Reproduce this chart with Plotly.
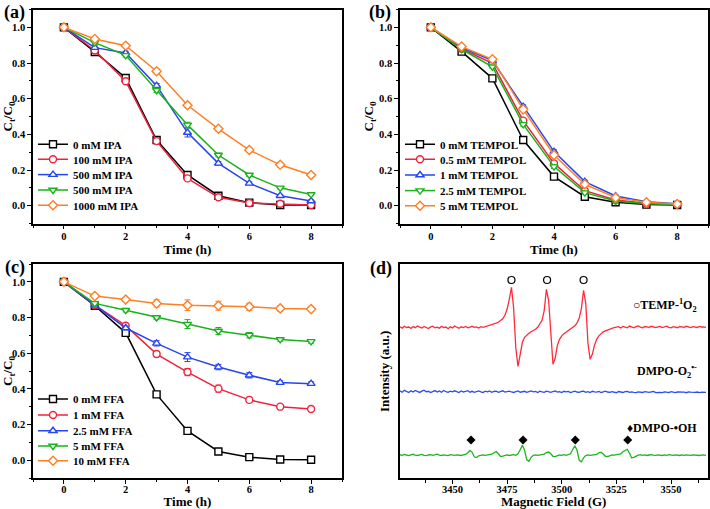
import plotly.graph_objects as go

SERIF = "Liberation Serif"

# ---------------- data ----------------
time_h = [0, 1, 2, 3, 4, 5, 6, 7, 8]

ipa_labels = ["0 mM IPA", "100 mM IPA", "500 mM IPA", "500 mM IPA", "1000 mM IPA"]
ipa_0 = [1.0, 0.862, 0.716, 0.368, 0.172, 0.056, 0.017, 0.004, 0.004]
ipa_100 = [1.0, 0.870, 0.698, 0.362, 0.153, 0.047, 0.015, 0.011, 0.004]
ipa_500a = [1.0, 0.886, 0.856, 0.673, 0.410, 0.237, 0.125, 0.056, 0.026]
ipa_500b = [1.0, 0.914, 0.843, 0.647, 0.453, 0.284, 0.172, 0.100, 0.063]
ipa_1000 = [1.0, 0.935, 0.897, 0.754, 0.563, 0.431, 0.312, 0.229, 0.172]
ipa_err = [
    [0, 0.008, 0.008, 0.008, 0.01, 0.006, 0.004, 0.004, 0.004],
    [0, 0.008, 0.008, 0.008, 0.01, 0.006, 0.004, 0.004, 0.004],
    [0, 0.01, 0.01, 0.012, 0.025, 0.01, 0.008, 0.006, 0.006],
    [0, 0.01, 0.01, 0.012, 0.015, 0.01, 0.008, 0.006, 0.006],
    [0, 0.01, 0.01, 0.012, 0.012, 0.012, 0.01, 0.012, 0.008],
]

tempol_labels = ["0 mM TEMPOL", "0.5 mM TEMPOL", "1 mM TEMPOL", "2.5 mM TEMPOL", "5 mM TEMPOL"]
tempol_0 = [1.0, 0.864, 0.714, 0.368, 0.163, 0.050, 0.019, 0.006, 0.004]
tempol_05 = [1.0, 0.880, 0.798, 0.477, 0.237, 0.084, 0.032, 0.013, 0.007]
tempol_1 = [1.0, 0.886, 0.813, 0.555, 0.303, 0.135, 0.054, 0.022, 0.011]
tempol_25 = [1.0, 0.877, 0.779, 0.456, 0.219, 0.073, 0.026, 0.011, 0.007]
tempol_5 = [1.0, 0.892, 0.821, 0.540, 0.284, 0.120, 0.045, 0.019, 0.009]
tempol_err = [0, 0.008, 0.008, 0.01, 0.01, 0.008, 0.006, 0.006, 0.006]

ffa_labels = ["0 mM FFA", "1 mM FFA", "2.5 mM FFA", "5 mM FFA", "10 mM FFA"]
ffa_0 = [1.0, 0.866, 0.714, 0.369, 0.164, 0.049, 0.017, 0.004, 0.002]
ffa_1 = [1.0, 0.869, 0.754, 0.595, 0.494, 0.401, 0.338, 0.300, 0.287]
ffa_25 = [1.0, 0.869, 0.741, 0.655, 0.578, 0.522, 0.476, 0.435, 0.429]
ffa_5 = [1.0, 0.879, 0.841, 0.800, 0.763, 0.724, 0.701, 0.677, 0.666]
ffa_10 = [1.0, 0.920, 0.901, 0.879, 0.869, 0.866, 0.860, 0.851, 0.847]
ffa_err = [
    [0, 0.008, 0.008, 0.01, 0.012, 0.008, 0.006, 0.004, 0.004],
    [0, 0.008, 0.01, 0.015, 0.02, 0.02, 0.015, 0.01, 0.01],
    [0, 0.008, 0.01, 0.015, 0.025, 0.015, 0.015, 0.01, 0.01],
    [0, 0.008, 0.01, 0.01, 0.025, 0.02, 0.015, 0.01, 0.01],
    [0, 0.01, 0.01, 0.02, 0.03, 0.025, 0.02, 0.015, 0.01],
]

# EPR spectra (panel d), field in G, intensity in arbitrary units
field_G = list(range(3426, 3567))
epr_temp = [
    151.5, 150.2, 152.0, 150.8, 151.3, 149.9, 151.7, 150.6, 152.2, 151.0,
    150.3, 151.8, 150.9, 149.8, 151.4, 152.1, 150.5, 151.2, 150.1, 151.9,
    150.7, 151.3, 149.6, 151.6, 150.4, 152.3, 151.1, 150.0, 151.5, 150.8,
    151.9, 150.6, 151.2, 152.0, 150.9, 151.4, 150.2, 151.7, 151.0, 151.6,
    152.3, 152.8, 153.5, 154.0, 155.2, 156.0, 157.5, 159.5, 163.0, 169.0,
    179.0, 191.0, 170.0, 130.0, 112.0, 124.0, 136.0, 141.0, 143.5, 145.0,
    146.5, 147.5, 149.0, 151.0, 154.0, 158.0, 168.0, 189.0, 178.0, 140.0,
    114.0, 120.0, 133.0, 139.0, 142.5, 144.5, 146.0, 147.5, 149.0, 150.5,
    152.5, 155.5, 160.0, 170.0, 188.0, 175.0, 135.0, 119.0, 124.0, 133.0,
    139.0, 142.5, 145.0, 146.5, 147.5, 148.5, 149.5, 150.0, 150.6, 150.8,
    151.6, 150.3, 151.9, 151.1, 150.5, 152.2, 151.0, 150.4, 151.7, 152.4,
    151.2, 150.6, 151.8, 151.3, 150.9, 152.0, 151.4, 150.7, 151.5, 151.9,
    150.8, 151.6, 152.1, 151.0, 150.5, 151.7, 151.2, 150.6, 151.8, 151.4,
    150.9, 152.0, 151.3, 150.7, 151.6, 151.1, 150.8, 151.9, 151.3, 151.5,
    150.9,
]
epr_dmpo_o2 = [
    87.4, 86.1, 88.0, 86.9, 85.8, 87.6, 86.3, 87.9, 86.7, 85.9,
    87.2, 88.1, 86.5, 87.0, 85.7, 86.8, 87.7, 86.2, 87.3, 86.0,
    87.8, 86.6, 85.9, 87.1, 86.4, 87.5, 86.9, 85.8, 87.4, 86.3,
    86.9, 87.6, 86.1, 87.0, 85.9, 86.7, 87.3, 86.4, 85.8, 87.1,
    86.5, 87.4, 86.0, 86.8, 87.2, 85.9, 86.6, 87.5, 86.2, 86.9,
    87.1, 86.3, 85.8, 86.7, 87.4, 86.1, 86.8, 87.0, 85.9, 86.6,
    87.3, 86.4, 86.9, 85.8, 87.2, 86.5, 86.0, 87.1, 86.7, 85.9,
    86.8, 87.3, 86.2, 86.6, 85.7, 87.0, 86.4, 86.9, 85.8, 86.5,
    87.1, 86.3, 85.9, 86.8, 87.2, 86.0, 86.6, 85.8, 87.0, 86.4,
    86.2, 86.9, 85.7, 86.5, 87.1, 86.3, 85.9, 86.7, 86.1, 85.6,
    86.8, 86.2, 85.8, 86.6, 86.9, 85.9, 86.4, 86.0, 85.7, 86.5,
    86.3, 85.8, 86.7, 86.1, 85.9, 86.4, 86.8, 85.7, 86.2, 86.0,
    85.6, 86.5, 86.1, 85.8, 86.6, 86.0, 85.7, 86.3, 86.4, 85.9,
    86.1, 85.6, 86.5, 86.2, 85.8, 86.0, 86.3, 85.7, 86.1, 85.9,
    86.0,
]
epr_dmpo_oh = [
    23.6, 22.9, 23.8, 23.1, 22.7, 23.5, 24.0, 23.2, 22.8, 23.4,
    23.9, 23.0, 22.6, 23.3, 23.7, 22.9, 23.5, 24.1, 23.1, 22.8,
    23.4, 23.0, 22.7, 23.6, 23.2, 22.9, 23.5, 23.1, 22.8, 23.4,
    23.8, 25.5, 27.8, 26.0, 21.5, 20.8, 22.5, 23.0, 23.4, 22.9,
    23.3, 23.7, 24.2, 25.5, 26.8, 24.5, 21.8, 22.2, 23.0, 23.4,
    22.8, 23.3, 23.6, 23.0, 24.5, 28.5, 33.0, 28.0, 18.5, 17.0,
    21.0, 23.0, 23.5, 22.9, 23.3, 23.8, 24.2, 25.8, 26.3, 24.5,
    22.0, 21.7, 22.8, 23.3, 23.0, 23.6, 22.9, 23.4, 24.5, 28.5,
    32.5, 28.0, 18.0, 16.5, 20.5, 22.8, 23.4, 22.9, 23.3, 23.6,
    24.0, 25.5, 26.0, 24.2, 22.0, 21.8, 23.0, 23.5, 23.1, 23.7,
    24.0, 24.5, 26.5, 28.0, 29.0, 25.0, 20.5, 21.0, 22.5, 23.2,
    23.6, 23.0, 23.4, 22.8, 23.3, 23.7, 23.1, 22.9, 23.5, 23.2,
    22.8, 23.4, 23.0, 23.6, 23.1, 22.9, 23.5, 23.2, 22.8, 23.4,
    23.0, 23.5, 23.1, 22.9, 23.4, 23.0, 23.3, 22.8, 23.2, 23.5,
    23.0,
]
temp_peak_G = [3477.0, 3493.3, 3510.0]
temp_mark_y = [198.3, 198.3, 198.3]
oh_peak_G = [3458.5, 3482.3, 3506.2, 3530.2]
oh_mark_y = [38.3, 38.3, 38.3, 38.3]
epr_tick_vals = [3450, 3475, 3500, 3525, 3550]

# ---------------- style ----------------
colors = ["#000000", "#F2203A", "#2545F0", "#19B319", "#FF7F24"]
symbols = ["square", "circle", "triangle-up", "triangle-down", "diamond"]

W, H = 710, 509
fig = go.Figure()

legend_layouts = {}
legfont = dict(family=SERIF, size=11, color="black", weight="bold")


def legend_key(n):
    return "legend" if n == 1 else "legend%d" % n


def add_panel(series, labels, errs, xa, ya, first_leg, leg_x, leg_ys):
    for i, (vals, lab) in enumerate(zip(series, labels)):
        key = legend_key(first_leg + i)
        legend_layouts[key] = dict(
            x=leg_x / W, y=1 - leg_ys[i] / H, xanchor="left", yanchor="middle",
            bgcolor="rgba(0,0,0,0)", font=legfont, itemwidth=30, borderwidth=0)
        fig.add_trace(go.Scatter(
            x=time_h, y=vals, name=lab, mode="lines+markers",
            xaxis=xa, yaxis=ya, legend=key,
            line=dict(color=colors[i], width=1.5),
            marker=dict(symbol=symbols[i], size=7, color="white",
                        line=dict(color=colors[i], width=1.4)),
            error_y=dict(type="data", array=errs[i], color=colors[i],
                         thickness=1, width=3, visible=True),
        ))


add_panel([ipa_0, ipa_100, ipa_500a, ipa_500b, ipa_1000], ipa_labels, ipa_err,
          "x", "y", 1, 33, [144.3, 159.3, 174.6, 190, 205.3])
add_panel([tempol_0, tempol_05, tempol_1, tempol_25, tempol_5], tempol_labels,
          [tempol_err] * 5, "x2", "y2", 6, 400, [144.3, 159.3, 175, 190.6, 205.8])
add_panel([ffa_0, ffa_1, ffa_25, ffa_5, ffa_10], ffa_labels, ffa_err,
          "x3", "y3", 11, 33, [399, 415, 430.7, 446, 460.7])

epr_colors = ["#FF2A3A", "#2A4CF5", "#1DB51D"]
for yv, c, nm in [(epr_temp, epr_colors[0], "TEMP-1O2"),
                  (epr_dmpo_o2, epr_colors[1], "DMPO-O2"),
                  (epr_dmpo_oh, epr_colors[2], "DMPO-OH")]:
    fig.add_trace(go.Scatter(x=field_G, y=yv, mode="lines", name=nm,
                             xaxis="x4", yaxis="y4", showlegend=False,
                             line=dict(color=c, width=1.3)))
fig.add_trace(go.Scatter(x=temp_peak_G, y=temp_mark_y, mode="markers",
                         xaxis="x4", yaxis="y4", showlegend=False,
                         marker=dict(symbol="circle-open", size=7,
                                     color="black", line=dict(width=1.2))))
fig.add_trace(go.Scatter(x=oh_peak_G, y=oh_mark_y, mode="markers",
                         xaxis="x4", yaxis="y4", showlegend=False,
                         marker=dict(symbol="diamond", size=7, color="black")))


def xd(a, b):
    return [a / W, b / W]


def yd(top, bottom):
    return [1 - bottom / H, 1 - top / H]


tickfont = dict(family=SERIF, size=10.5, color="black", weight="bold")
titlefont = dict(family=SERIF, size=13, color="black", weight="bold")

base = dict(showline=True, linecolor="black", linewidth=1.5, mirror=True,
            ticks="outside", ticklen=4, tickwidth=1.2, tickcolor="black",
            showgrid=False, zeroline=False, tickfont=tickfont)


def time_x(dom, anchor, standoff=2, lab_standoff=-2):
    return dict(base, domain=dom, anchor=anchor, range=[-1, 9],
                tickvals=[0, 2, 4, 6, 8], ticklabelstandoff=lab_standoff,
                minor=dict(ticks="outside", ticklen=2.5, tickwidth=1,
                           tickcolor="black", dtick=1, tick0=0),
                title=dict(text="Time (h)", font=titlefont, standoff=standoff))


def conc_y(dom, anchor):
    return dict(base, domain=dom, anchor=anchor, range=[-0.1, 1.1],
                tickvals=[0, 0.2, 0.4, 0.6, 0.8, 1.0], tickformat=".1f",
                minor=dict(ticks="outside", ticklen=2.5, tickwidth=1,
                           tickcolor="black", dtick=0.1, tick0=0),
                title=dict(text="C<sub>t</sub>/C<sub>0</sub>", font=titlefont,
                           standoff=2))


fig.update_layout(
    width=W, height=H, margin=dict(l=0, r=0, t=0, b=0),
    paper_bgcolor="white", plot_bgcolor="white",
    showlegend=True,
    xaxis=time_x(xd(33, 342), "y"),
    yaxis=conc_y(yd(9.5, 223.5), "x"),
    xaxis2=time_x(xd(400, 708), "y2"),
    yaxis2=conc_y(yd(9.5, 223.5), "x2"),
    xaxis3=time_x(xd(33, 342), "y3", standoff=4, lab_standoff=-3),
    yaxis3=conc_y(yd(264, 478), "x3"),
    xaxis4=dict(base, domain=xd(400, 707.5), anchor="y4", range=[3426, 3566.7],
                tickvals=epr_tick_vals, ticklabelstandoff=-4,
                minor=dict(ticks="outside", ticklen=2.5, tickwidth=1,
                           tickcolor="black", dtick=12.5, tick0=3425),
                title=dict(text="Magnetic Field (G)", font=titlefont, standoff=3)),
    yaxis4=dict(showline=True, linecolor="black", linewidth=1.5, mirror=True,
                showgrid=False, zeroline=False, ticks="", showticklabels=False,
                domain=yd(264.3, 478.3), anchor="x4", range=[0, 214],
                title=dict(text="Intensity (a.u.)", font=titlefont, standoff=6)),
    **legend_layouts,
)

ann_font = dict(family=SERIF, size=18, color="black", weight="bold")
for txt, xp, yp in [("(a)", 14.5, 12), ("(b)", 380, 12), ("(c)", 14.5, 267), ("(d)", 381.5, 268)]:
    fig.add_annotation(text=txt, x=xp / W, y=1 - yp / H, xref="paper", yref="paper",
                       showarrow=False, font=ann_font, xanchor="center", yanchor="middle")

lab_font = dict(family=SERIF, size=12, color="black", weight="bold")
for txt, yp in [("○TEMP-<sup>1</sup>O<sub>2</sub>", 305),
                ("DMPO-O<sub>2</sub><sup>•-</sup>", 371.7),
                ("♦DMPO-•OH", 427.7)]:
    fig.add_annotation(text=txt, x=699 / W, y=1 - yp / H, xref="paper", yref="paper",
                       showarrow=False, font=lab_font, xanchor="right", yanchor="middle")

fig.write_html("out.html", config={"displayModeBar": False},
               post_script="document.body.style.margin='0';document.body.style.padding='0';")
